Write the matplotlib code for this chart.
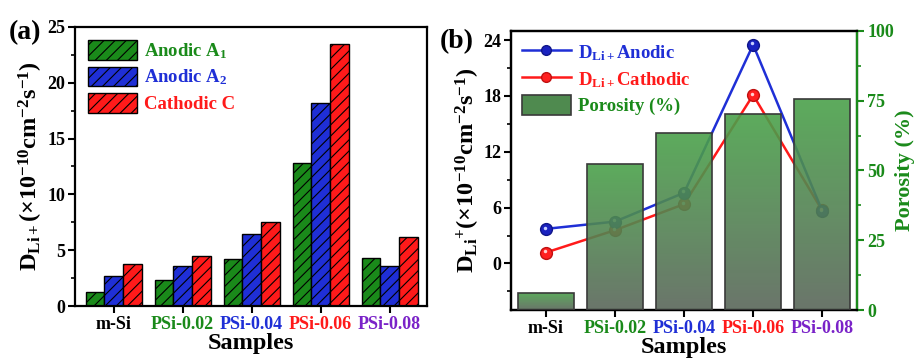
import numpy as np
import matplotlib
matplotlib.use("Agg")
import matplotlib.pyplot as plt
import matplotlib.transforms as mtransforms
from matplotlib.colors import LinearSegmentedColormap
from matplotlib.patches import Patch
from matplotlib.lines import Line2D

# data
samples = ["m-Si", "PSi-0.02", "PSi-0.04", "PSi-0.06", "PSi-0.08"]
sample_colors = ["black", "#1a8a1a", "#1f2fd6", "#ff1a1a", "#7a22c8"]

anodic_a1 = [1.3, 2.35, 4.25, 12.8, 4.3]
anodic_a2 = [2.7, 3.6, 6.45, 18.15, 3.6]
cathodic_c = [3.75, 4.45, 7.55, 23.5, 6.2]

d_anodic = [3.72, 4.5, 7.6, 23.5, 5.66]
d_cathodic = [1.18, 3.58, 6.38, 18.1, 5.7]
porosity = [6.2, 52.3, 63.5, 70.3, 75.5]

plt.rcParams["font.family"] = "Liberation Serif"
plt.rcParams["font.weight"] = "bold"
plt.rcParams["mathtext.fontset"] = "custom"
plt.rcParams["mathtext.rm"] = "Liberation Serif:bold"
plt.rcParams["mathtext.bf"] = "Liberation Serif:bold"
plt.rcParams["mathtext.it"] = "Liberation Serif:bold:italic"
plt.rcParams["hatch.linewidth"] = 0.8
plt.rcParams["axes.linewidth"] = 1.6

green = "#1a8a1a"
blue = "#1f2fd6"
red = "#ff1a1a"
tick_fs = 13
lab_fs = 17.5

fig = plt.figure(figsize=(9.17, 3.58), dpi=100)
ax1 = fig.add_axes([0.0818, 0.145, 0.3838, 0.78])
axb = fig.add_axes([0.557, 0.134, 0.378, 0.78])

ylab = r"D$_{\mathbf{Li+}}$(×10$^{\mathbf{-10}}$cm$^{\mathbf{-2}}$s$^{\mathbf{-1}}$)"
ylab_b = r"D$_{\mathbf{Li}}$$^{\mathbf{+}}$(×10$^{\mathbf{-10}}$cm$^{\mathbf{-2}}$s$^{\mathbf{-1}}$)"

# ---- panel (a)
x = np.arange(len(samples))
w = 0.27
ax1.bar(x - w, anodic_a1, w, color=green, edgecolor="black", hatch="///", lw=1, label=r"Anodic A$_{\mathbf{1}}$")
ax1.bar(x, anodic_a2, w, color=blue, edgecolor="black", hatch="///", lw=1, label=r"Anodic A$_{\mathbf{2}}$")
ax1.bar(x + w, cathodic_c, w, color=red, edgecolor="black", hatch="///", lw=1, label="Cathodic C")
ax1.set_xlim(-0.56, 4.54)
ax1.set_ylim(0, 25)
ax1.set_yticks([0, 5, 10, 15, 20, 25])
ax1.set_yticks(np.arange(2.5, 25, 5), minor=True)
ax1.set_xticks(x)
ax1.set_xticklabels(samples)
for lab, c in zip(ax1.get_xticklabels(), sample_colors):
    lab.set_color(c)
ax1.tick_params(axis="both", labelsize=tick_fs, width=1.5, length=5, direction="out", pad=2)
ax1.tick_params(axis="y", which="minor", width=1.2, length=3)
ax1.set_xlabel("Samples", fontsize=lab_fs, fontweight="bold", labelpad=0)
ax1.set_ylabel(ylab, fontsize=lab_fs, fontweight="bold", labelpad=2)
leg = ax1.legend(loc="upper left", frameon=False, fontsize=13.5, handlelength=2.6,
                 handleheight=1.25, borderaxespad=0.3, labelspacing=0.3, handletextpad=0.4)
for t, c in zip(leg.get_texts(), [green, blue, red]):
    t.set_color(c)
fig.text(0.010, 0.89, "(a)", fontsize=20, fontweight="bold")

# ---- panel (b)
hl = mtransforms.offset_copy(axb.transData, fig=fig, x=-1.3, y=1.3, units="dots")
axb.plot(x, d_anodic, "-o", color=blue, lw=1.8, ms=8.5, mfc="#1a22c0", mec="#10168a", zorder=3)
axb.plot(x, d_cathodic, "-o", color=red, lw=1.8, ms=8.5, mfc="#ff2020", mec="#c01010", zorder=2)
axb.plot(x, d_anodic, "o", color="#c8d0ff", ms=2.5, zorder=4, markeredgewidth=0, transform=hl)
axb.plot(x, d_cathodic, "o", color="#ffd0d0", ms=2.5, zorder=4, markeredgewidth=0, transform=hl)
axb.set_xlim(-0.51, 4.51)
axb.set_ylim(-5, 25)
axb.set_yticks([0, 6, 12, 18, 24])
axb.set_yticks(np.arange(-3, 25, 6), minor=True)
axb.set_xticks(x)
axb.set_xticklabels(samples)
for lab, c in zip(axb.get_xticklabels(), sample_colors):
    lab.set_color(c)
axb.tick_params(axis="both", labelsize=tick_fs, width=1.5, length=5, direction="out", pad=2)
axb.tick_params(axis="y", which="minor", width=1.2, length=3)
axb.set_xlabel("Samples", fontsize=lab_fs, fontweight="bold", labelpad=0)
axb.set_ylabel(ylab_b, fontsize=lab_fs, fontweight="bold", labelpad=1)

ax2 = axb.twinx()
cmap = LinearSegmentedColormap.from_list("por", ["#5a665a", "#4aa24a"])
grad = np.linspace(0, 1, 256).reshape(-1, 1)
bw = 0.81
bars = ax2.bar(x, porosity, bw, color="none", edgecolor="#3a3a3a", lw=1.2, zorder=3)
for b, h in zip(bars, porosity):
    im = ax2.imshow(grad, extent=[b.get_x(), b.get_x() + bw, 0, h], origin="lower",
                    aspect="auto", cmap=cmap, alpha=0.9, zorder=2)
    im.set_clip_path(b)
ax2.set_xlim(-0.51, 4.51)
ax2.set_ylim(0, 100)
ax2.set_yticks([0, 25, 50, 75, 100])
ax2.set_yticks(np.arange(12.5, 100, 25), minor=True)
ax2.spines["right"].set_color(green)
ax2.tick_params(axis="y", colors=green, labelsize=tick_fs, width=1.5, length=5, direction="out", pad=2)
ax2.tick_params(axis="y", which="minor", colors=green, width=1.2, length=3)
for t in ax2.get_yticklabels():
    t.set_color(green)
ax2.set_ylabel("Porosity (%)", fontsize=16, fontweight="bold", color=green, labelpad=1)

handles = [Line2D([], [], color=blue, lw=1.8, marker="o", ms=7, mfc="#1a22c0", mec="#10168a"),
           Line2D([], [], color=red, lw=1.8, marker="o", ms=7, mfc="#ff2020", mec="#c01010"),
           Patch(facecolor="#4f8a4f", edgecolor="#3a3a3a", lw=1.2)]
labels = [r"D$_{\mathbf{Li+}}$Anodic", r"D$_{\mathbf{Li+}}$Cathodic", "Porosity (%)"]
leg2 = ax2.legend(handles, labels, loc="upper left", frameon=False, fontsize=13.5,
                  handlelength=2.6, handleheight=1.25, borderaxespad=0.2,
                  labelspacing=0.3, handletextpad=0.4)
for t, c in zip(leg2.get_texts(), [blue, red, green]):
    t.set_color(c)
fig.text(0.480, 0.865, "(b)", fontsize=20, fontweight="bold")

fig.savefig("out.png", dpi=100)
